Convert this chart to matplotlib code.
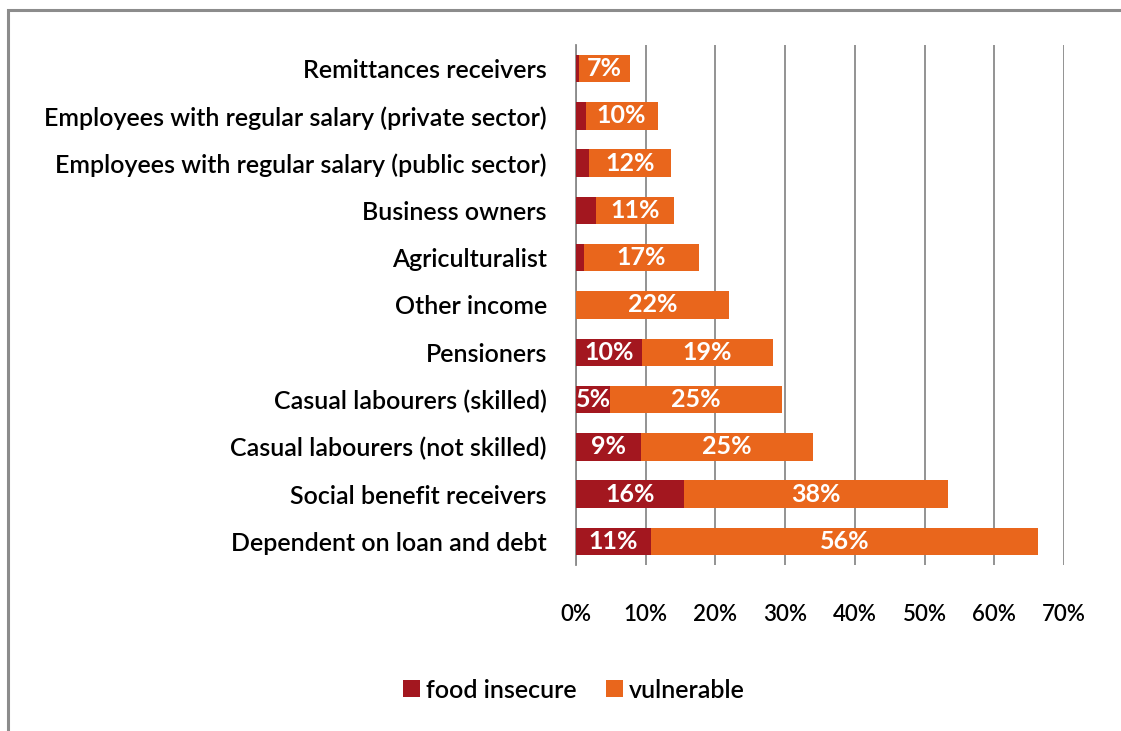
import matplotlib
matplotlib.use("Agg")
import matplotlib.pyplot as plt
from matplotlib.patches import Rectangle
from matplotlib.ticker import FuncFormatter

plt.rcParams['font.family'] = ['Lato', 'DejaVu Sans']

# Income source groups, listed bottom to top
categories = [
    "Dependent on loan and debt",
    "Social benefit receivers",
    "Casual labourers (not skilled)",
    "Casual labourers (skilled)",
    "Pensioners",
    "Other income",
    "Agriculturalist",
    "Business owners",
    "Employees with regular salary (public sector)",
    "Employees with regular salary (private sector)",
    "Remittances receivers",
]
food_insecure = [10.7, 15.5, 9.3, 4.9, 9.5, 0.0, 1.1, 2.8, 1.9, 1.4, 0.4]
vulnerable = [55.6, 37.9, 24.7, 24.7, 18.7, 21.9, 16.6, 11.3, 11.7, 10.3, 7.4]
xticks = [0, 10, 20, 30, 40, 50, 60, 70]

RED = "#A3171F"
ORANGE = "#E9661C"

fig = plt.figure(figsize=(11.21, 7.31), dpi=100)

# outer frame
fig.patches.append(Rectangle((8 / 1121, -0.05), 1.2, 1 - 10 / 731 + 0.05,
                             transform=fig.transFigure, fill=False,
                             edgecolor="#8c8c8c", linewidth=2.2))

ax = fig.add_axes([576 / 1121, 1 - 565 / 731, 488 / 1121, 520 / 731])
y = range(len(categories))
h = 0.58
b1 = ax.barh(y, food_insecure, height=h, color=RED, label="food insecure", zorder=3)
b2 = ax.barh(y, vulnerable, left=food_insecure, height=h, color=ORANGE,
             label="vulnerable", zorder=3)

for i, (f, v) in enumerate(zip(food_insecure, vulnerable)):
    if f >= 4.5:
        ax.text(f / 2, i, f"{f:.0f}%", ha="center", va="center", color="white",
                fontsize=18, fontweight="bold", zorder=4)
    ax.text(f + v / 2, i, f"{v:.0f}%", ha="center", va="center", color="white",
            fontsize=18, fontweight="bold", zorder=4)

ax.set_xlim(0, 70)
ax.set_ylim(-0.5, len(categories) - 0.5)
ax.set_yticks(list(y))
ax.set_yticklabels(categories, fontweight="semibold")
ax.set_xticks(xticks)
ax.xaxis.set_major_formatter(FuncFormatter(lambda v, p: f"{v:.0f}%"))
for t in ax.get_xticklabels():
    t.set_fontweight("semibold")
ax.tick_params(axis="y", length=0, pad=21, labelsize=18)
ax.tick_params(axis="x", length=0, pad=28, labelsize=16)
ax.grid(axis="x", color="#8a8a8a", linewidth=1.3, zorder=0)
for s in ["top", "right", "bottom"]:
    ax.spines[s].set_visible(False)
ax.spines["left"].set_color("#8a8a8a")
ax.spines["left"].set_linewidth(1.3)

leg = fig.legend(handles=[b1, b2], loc="center", bbox_to_anchor=(574 / 1121, 1 - 690 / 731),
                 ncol=2, frameon=False, handlelength=0.65, handleheight=0.65,
                 handletextpad=0.25, columnspacing=1.2,
                 prop={"size": 18, "weight": "semibold"})

fig.savefig("out.png", dpi=100)
